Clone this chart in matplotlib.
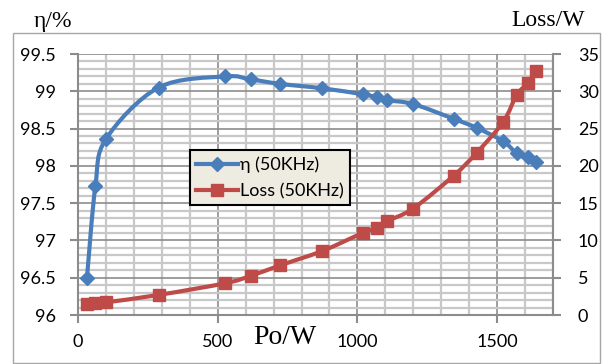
import numpy as np
import matplotlib
matplotlib.use("Agg")
import matplotlib.pyplot as plt
from matplotlib.patches import Rectangle, PathPatch
from matplotlib.path import Path
from matplotlib.lines import Line2D
from matplotlib.ticker import MultipleLocator, FormatStrFormatter

# data
po = [32, 62, 100, 288, 527, 618, 722, 875, 1019, 1070, 1105, 1199, 1345, 1427, 1522, 1570, 1610, 1639]
eta = [96.5, 97.73, 98.36, 99.05, 99.2, 99.16, 99.1, 99.04, 98.96, 98.92, 98.88, 98.83, 98.63, 98.51, 98.33, 98.17, 98.12, 98.05]
loss = [1.44, 1.57, 1.7, 2.69, 4.26, 5.25, 6.64, 8.6, 11.0, 11.7, 12.56, 14.27, 18.7, 21.76, 25.9, 29.5, 31.1, 32.7]

plt.rcParams['font.family'] = ['Lato', 'DejaVu Sans']


def smooth_path(x, y):
    # Excel-style smoothed line: cubic bezier through the points
    p = np.column_stack([x, y]).astype(float)
    verts = [p[0]]
    codes = [Path.MOVETO]
    n = len(p)
    for i in range(n - 1):
        p0 = p[i - 1] if i > 0 else p[i]
        p3 = p[i + 2] if i + 2 < n else p[i + 1]
        c1 = p[i] + (p[i + 1] - p0) / 6
        c2 = p[i + 1] - (p3 - p[i]) / 6
        verts += [c1, c2, p[i + 1]]
        codes += [Path.CURVE4] * 3
    return Path(verts, codes)


fig = plt.figure(figsize=(6.05, 3.64), dpi=100)
ax = fig.add_axes([0.129, 0.1346, 0.785, 0.717])
ax2 = ax.twinx()

# chart frame
fig.patches.append(Rectangle((13/605, 1/364), 587/605, 330/364, transform=fig.transFigure,
                             fill=False, edgecolor='#a6a6a6', lw=1))

ax.set_xlim(0, 1700)
ax.set_ylim(96, 99.5)
ax2.set_ylim(0, 35)
ax.xaxis.set_major_locator(MultipleLocator(500))
ax.xaxis.set_minor_locator(MultipleLocator(100))
ax.yaxis.set_major_locator(MultipleLocator(0.5))
ax.yaxis.set_minor_locator(MultipleLocator(0.1))
ax.yaxis.set_major_formatter(FormatStrFormatter('%g'))
ax2.yaxis.set_major_locator(MultipleLocator(5))

for a in (ax, ax2):
    for s in a.spines.values():
        s.set_visible(False)
    a.tick_params(which='minor', length=0)
    a.tick_params(which='major', length=6, width=1.5, color='#8c8c8c', labelsize=13)
ax.spines['left'].set_visible(True)
ax.spines['bottom'].set_visible(True)
ax2.spines['right'].set_visible(True)
for s in (ax.spines['left'], ax.spines['bottom'], ax2.spines['right']):
    s.set_color('#8c8c8c')
    s.set_linewidth(1.5)
ax.tick_params(axis='x', pad=8)
ax.tick_params(axis='y', pad=10)
ax2.tick_params(axis='y', pad=12)

ax.grid(True, which='minor', axis='both', color='#c8c8c8', lw=1.6)
ax.grid(True, which='major', axis='both', color='#8c8c8c', lw=1.2)
ax.set_axisbelow(True)

blue = '#4a7ebb'
red = '#be4b48'
ax.add_patch(PathPatch(smooth_path(po, eta), fill=False, edgecolor=blue, lw=3, zorder=3,
                       capstyle='round', joinstyle='round'))
ax.plot(po, eta, ls='none', color=blue, marker='D', ms=7, zorder=4)
ax2.add_patch(PathPatch(smooth_path(po, loss), fill=False, edgecolor=red, lw=3, zorder=3,
                        capstyle='round', joinstyle='round'))
ax2.plot(po, loss, ls='none', color=red, marker='s', ms=9, zorder=4)

h1 = Line2D([], [], color=blue, lw=3, marker='D', ms=7)
h2 = Line2D([], [], color=red, lw=3, marker='s', ms=9)
leg = ax2.legend(handles=[h1, h2], labels=['η (50KHz)', 'Loss (50KHz)'], loc='upper left',
                 bbox_to_anchor=(112/475, 1-96/261),
                 fontsize=13, frameon=True, fancybox=False, handlelength=2.3,
                 handletextpad=0.1, borderpad=0.35, labelspacing=0.55, borderaxespad=0)
leg.get_frame().set_facecolor('#eeece1')
leg.get_frame().set_edgecolor('black')
leg.get_frame().set_linewidth(1.5)
leg.get_frame().set_alpha(1)

fig.text(53/605, 1-22/364, 'η/%', family='Liberation Serif', fontsize=17, ha='center', va='center')
fig.text(548/605, 1-20/364, 'Loss/W', family='Liberation Serif', fontsize=17, ha='center', va='center')
fig.text(285/605, 1-338/364, 'Po/W', family='Liberation Serif', fontsize=20, ha='center', va='center')

fig.savefig('out.png', dpi=100)
